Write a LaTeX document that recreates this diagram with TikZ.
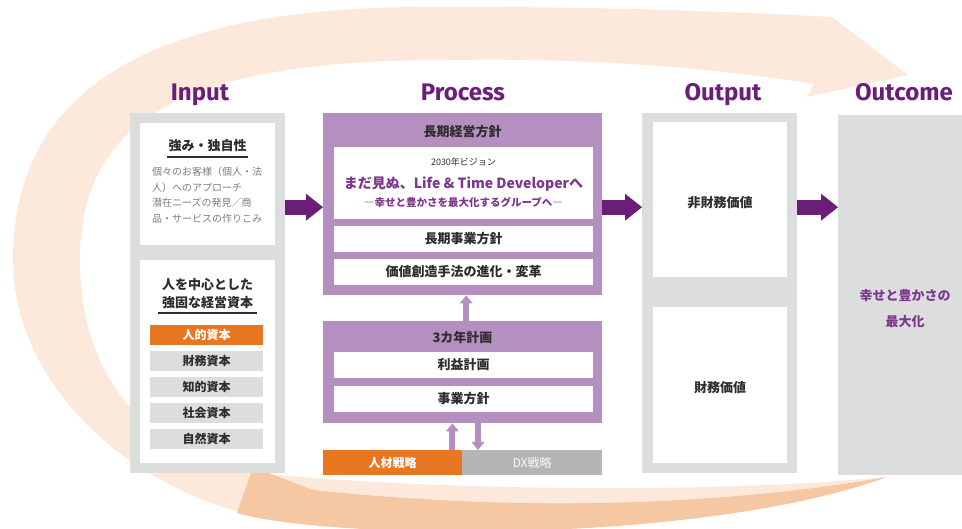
\documentclass[tikz,border=0pt]{standalone}
\usepackage{fontspec}
\setmainfont{Noto Sans CJK JP}
\newfontfamily\headfont{Fira Sans}
\usetikzlibrary{arrows.meta}

\definecolor{ringlight}{RGB}{252,233,220}
\definecolor{ringdark}{RGB}{246,199,163}
\definecolor{boxgray}{RGB}{220,221,221}
\definecolor{procpurple}{RGB}{181,143,191}
\definecolor{deeppurple}{RGB}{106,30,120}
\definecolor{visionpurple}{RGB}{125,55,140}
\definecolor{caporange}{RGB}{232,119,34}
\definecolor{dxgray}{RGB}{181,181,181}
\definecolor{inkgray}{RGB}{125,125,125}
\definecolor{inkdark}{RGB}{45,45,45}

\tikzset{
  heading/.style={anchor=base,font=\headfont\bfseries\fontsize{24}{24}\selectfont,text=deeppurple},
  panel/.style={anchor=north west,fill=boxgray,inner sep=0pt},
  card/.style={anchor=north west,fill=white,inner sep=0pt},
  title/.style={font=\bfseries\fontsize{13}{13}\selectfont,text=inkdark},
  capbox/.style={anchor=north west,fill=boxgray,inner sep=0pt,minimum width=113pt,minimum height=19.5pt,
    font=\bfseries\fontsize{12}{12}\selectfont,text=inkdark},
  bigarrow/.style={color=deeppurple,line width=15pt,-{Triangle[length=17pt,width=27pt,line width=0pt]}},
  linkarrow/.style={color=procpurple,line width=6pt,-{Triangle[length=8pt,width=13pt,line width=0pt]}}
}

\begin{document}
\begin{tikzpicture}[x=1pt,y=-1pt]
\useasboundingbox (0,0) rectangle (962,529);

% cycle band behind everything
\fill[ringlight] (887,477) .. controls (700,545) and (330,540) .. (240,512)
  .. controls (120,480) and (13,380) .. (13,260)
  .. controls (13,90) and (150,8) .. (420,7)
  .. controls (600,6) and (740,12) .. (832,17)
  -- (908,75) -- (807,97) -- (814,84)
  .. controls (700,66) and (580,58) .. (450,60)
  .. controls (200,60) and (80,110) .. (80,260)
  .. controls (80,360) and (130,440) .. (230,470)
  .. controls (400,490) and (700,495) .. (887,477) -- cycle;
\fill[ringdark] (887,477) .. controls (720,506) and (520,512) .. (313,490)
  -- (253,467) -- (237,513)
  .. controls (330,540) and (700,545) .. (887,477) -- cycle;

\node[heading] (inhead) at (200,101) {Input};
\node[heading] (prochead) at (463,101) {Process};
\node[heading] (outhead) at (723,101) {Output};
\node[heading] (outchead) at (904,101) {Outcome};

% input
\node[panel,minimum width=155pt,minimum height=360pt] (input) at (130,113) {};
\node[card,minimum width=135pt,minimum height=122pt] (strength) at (140,123) {};
\node[title] (strengthtitle) at (207.5,146) {強み・独自性};
\draw[inkdark,line width=1.2pt] (167,157) -- (248,157);
\node[anchor=north west,inner sep=0pt,align=left,text=inkgray,font=\fontsize{10}{15.5}\selectfont] (strengthtext) at (152,167)
  {個々のお客様（個人・法\\人）へのアプローチ\\潜在ニーズの発見／商\\品・サービスの作りこみ};
\node[card,minimum width=135pt,minimum height=203pt] (capital) at (140,260) {};
\node[title,align=center,font=\bfseries\fontsize{13}{18}\selectfont] (capitaltitle) at (207.5,294) {人を中心とした\\強固な経営資本};
\draw[inkdark,line width=1.2pt] (158,313) -- (257,313);
\node[capbox,fill=caporange,text=white] (human) at (150,325) {人的資本};
\node[capbox] (finance) at (150,351) {財務資本};
\node[capbox] (intel) at (150,377) {知的資本};
\node[capbox] (social) at (150,403) {社会資本};
\node[capbox] (nature) at (150,429) {自然資本};

% process
\node[panel,fill=procpurple,minimum width=279pt,minimum height=182pt] (longterm) at (323,113) {};
\node[title] (longtermtitle) at (462.5,132) {長期経営方針};
\node[card,minimum width=259pt,minimum height=72pt] (vision) at (334,147) {};
\node[text=inkdark,font=\fontsize{9}{9}\selectfont] (visionyear) at (463.5,162) {2030年ビジョン};
\node[text=visionpurple,font=\bfseries\fontsize{14}{14}\selectfont] (visionmain) at (463.5,184) {まだ見ぬ、Life \& Time Developerへ};
\node[text=visionpurple,font=\bfseries\fontsize{10.5}{10.5}\selectfont] (visionsub) at (463.5,202) {―幸せと豊かさを最大化するグループへ―};
\node[card,minimum width=259pt,minimum height=26pt] (business) at (334,226) {};
\node[title] (businesstext) at (463.5,239) {長期事業方針};
\node[card,minimum width=259pt,minimum height=26pt] (method) at (334,259) {};
\node[title] (methodtext) at (463.5,272) {価値創造手法の進化・変革};

\node[panel,fill=procpurple,minimum width=279pt,minimum height=102pt] (plan) at (323,321) {};
\node[title] (plantitle) at (462.5,338) {3カ年計画};
\node[card,minimum width=259pt,minimum height=26pt] (profit) at (334,352) {};
\node[title] (profittext) at (463.5,365) {利益計画};
\node[card,minimum width=259pt,minimum height=26pt] (policy) at (334,386) {};
\node[title] (policytext) at (463.5,399) {事業方針};

\node[panel,fill=caporange,minimum width=139pt,minimum height=25pt,font=\bfseries\fontsize{12}{12}\selectfont,text=white] (jinzai) at (323,450) {人材戦略};
\node[panel,fill=dxgray,minimum width=140pt,minimum height=25pt,font=\fontsize{12}{12}\selectfont,text=white!92!dxgray] (dx) at (462,450) {DX戦略};

\draw[linkarrow] ([xshift=3.5pt]plan.north) -- ([xshift=3.5pt]plan.north |- longterm.south);
\draw[linkarrow] ([xshift=-10pt]jinzai.north east) -- ([xshift=-10pt]jinzai.north east |- plan.south);
\draw[linkarrow] ([xshift=16pt]dx.north west |- plan.south) -- ([xshift=16pt]dx.north west);

% output
\node[panel,minimum width=155pt,minimum height=360pt] (output) at (642,113) {};
\node[card,minimum width=134pt,minimum height=155pt] (nonfin) at (653,122) {};
\node[title] (nonfintext) at (720,203) {非財務価値};
\node[card,minimum width=134pt,minimum height=156pt] (fin) at (653,307) {};
\node[title] (fintext) at (720,388) {財務価値};

% outcome
\node[panel,minimum width=124pt,minimum height=360pt] (outcome) at (838,115) {};
\node[title,text=visionpurple,align=center,font=\bfseries\fontsize{13}{26}\selectfont] (outcometext) at (905,309) {幸せと豊かさの\\最大化};

% flow
\draw[bigarrow] ([yshift=-3pt]input.east |- longterm.west) -- ([yshift=-3pt]longterm.west);
\draw[bigarrow] ([yshift=-3pt]longterm.east) -- ([yshift=-3pt]output.west |- longterm.east);
\draw[bigarrow] ([yshift=-3pt]output.east |- longterm.east) -- ([yshift=-3pt]outcome.west |- longterm.east);
\end{tikzpicture}
\end{document}
